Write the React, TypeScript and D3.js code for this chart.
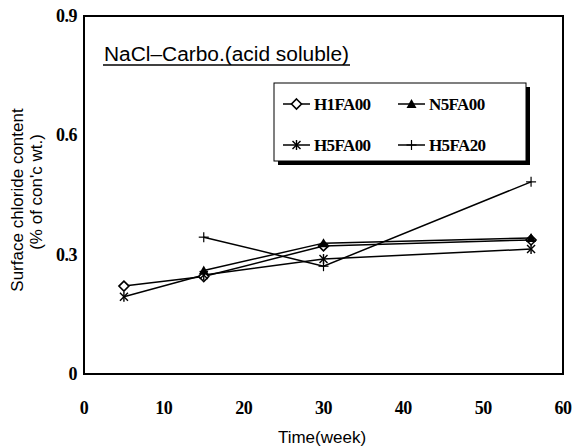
import React from 'react';
import * as d3 from 'd3';

const xTicks = [0, 10, 20, 30, 40, 50, 60];
const yTicks = [0, 0.3, 0.6, 0.9];
const yTickLabels = ['0', '0.3', '0.6', '0.9'];

const h1Weeks = [5, 15, 30, 56];
const h1fa00 = [0.221, 0.245, 0.322, 0.337];
const n5Weeks = [15, 30, 56];
const n5fa00 = [0.26, 0.329, 0.342];
const h5Weeks = [5, 15, 30, 56];
const h5fa00 = [0.194, 0.249, 0.289, 0.314];
const h20Weeks = [15, 30, 56];
const h5fa20 = [0.344, 0.271, 0.483];

const seriesNames = ['H1FA00', 'N5FA00', 'H5FA00', 'H5FA20'];

const width = 576;
const height = 448;
const plot = { left: 84, right: 563, top: 16, bottom: 374 };

const serif = '"Liberation Serif", "Times New Roman", serif';
const sans = '"Liberation Sans", Arial, sans-serif';

function Marker({ kind, x, y }: { kind: string; x: number; y: number }) {
  if (kind === 'diamond') {
    return (
      <path
        d={`M${x},${y - 5}L${x + 5},${y}L${x},${y + 5}L${x - 5},${y}Z`}
        fill="#fff"
        stroke="#000"
        strokeWidth={1.6}
      />
    );
  }
  if (kind === 'triangle') {
    return <path d={`M${x},${y - 5}L${x + 5},${y + 4}L${x - 5},${y + 4}Z`} fill="#000" />;
  }
  if (kind === 'star') {
    return (
      <g stroke="#000" strokeWidth={1.4}>
        <line x1={x - 4} y1={y - 4} x2={x + 4} y2={y + 4} />
        <line x1={x - 4} y1={y + 4} x2={x + 4} y2={y - 4} />
        <line x1={x} y1={y - 5} x2={x} y2={y + 5} />
      </g>
    );
  }
  return (
    <g stroke="#000" strokeWidth={1.2}>
      <line x1={x - 5} y1={y} x2={x + 5} y2={y} />
      <line x1={x} y1={y - 5} x2={x} y2={y + 5} />
    </g>
  );
}

export default function App() {
  const x = d3.scaleLinear().domain([0, 60]).range([plot.left, plot.right]);
  const y = d3.scaleLinear().domain([0, 0.9]).range([plot.bottom, plot.top]);

  const series = [
    { name: seriesNames[0], weeks: h1Weeks, values: h1fa00, kind: 'diamond' },
    { name: seriesNames[1], weeks: n5Weeks, values: n5fa00, kind: 'triangle' },
    { name: seriesNames[2], weeks: h5Weeks, values: h5fa00, kind: 'star' },
    { name: seriesNames[3], weeks: h20Weeks, values: h5fa20, kind: 'plus' },
  ];

  const line = d3
    .line<[number, number]>()
    .x((d) => x(d[0]))
    .y((d) => y(d[1]));

  const legend = { left: 274, top: 83, w: 252, h: 78 };
  const legendPos = [
    { lx: 283, ly: 104 },
    { lx: 398, ly: 104 },
    { lx: 283, ly: 145 },
    { lx: 398, ly: 145 },
  ];

  return (
    <svg
      width={width}
      height={height}
      style={{ position: 'absolute', left: 0, top: 0, background: '#fff' }}
    >
      <rect x={0} y={0} width={width} height={height} fill="#fff" />

      {series.map((s) => (
        <path
          key={s.name}
          d={line(s.weeks.map((w, i) => [w, s.values[i]] as [number, number])) || ''}
          fill="none"
          stroke="#000"
          strokeWidth={1.5}
        />
      ))}
      {series.map((s) =>
        s.weeks.map((w, i) => (
          <Marker key={s.name + i} kind={s.kind} x={x(w)} y={y(s.values[i])} />
        ))
      )}

      <rect
        x={plot.left}
        y={plot.top}
        width={plot.right - plot.left}
        height={plot.bottom - plot.top}
        fill="none"
        stroke="#000"
        strokeWidth={2}
      />

      {xTicks.map((t) => (
        <text
          key={t}
          x={x(t)}
          y={414}
          textAnchor="middle"
          fontFamily={serif}
          fontWeight="bold"
          fontSize={18}
          letterSpacing={-0.5}
        >
          {t}
        </text>
      ))}
      {yTicks.map((t, i) => (
        <text
          key={t}
          x={77}
          y={y(t) + 6}
          textAnchor="end"
          fontFamily={serif}
          fontWeight="bold"
          fontSize={18}
          letterSpacing={-0.5}
        >
          {yTickLabels[i]}
        </text>
      ))}

      <text x={322} y={443} textAnchor="middle" fontFamily={sans} fontSize={17}>
        Time(week)
      </text>
      <g transform="translate(23,200) rotate(-90)">
        <text x={0} y={0} textAnchor="middle" fontFamily={sans} fontSize={17}>
          Surface chloride content
        </text>
        <text x={8} y={19} textAnchor="middle" fontFamily={sans} fontSize={17}>
          (% of con'c wt.)
        </text>
      </g>

      <text
        x={104}
        y={61}
        fontFamily={sans}
        fontSize={20}
        textLength={245}
        lengthAdjust="spacingAndGlyphs"
      >
        NaCl–Carbo.(acid soluble)
      </text>
      <line x1={103} y1={65} x2={350} y2={65} stroke="#000" strokeWidth={1.5} />

      <rect x={legend.left + 4} y={legend.top + 4} width={legend.w} height={legend.h} fill="#000" />
      <rect
        x={legend.left}
        y={legend.top}
        width={legend.w}
        height={legend.h}
        fill="#fff"
        stroke="#000"
        strokeWidth={1}
      />
      {series.map((s, i) => {
        const p = legendPos[i];
        return (
          <g key={s.name}>
            <line x1={p.lx} y1={p.ly} x2={p.lx + 27} y2={p.ly} stroke="#000" strokeWidth={1.5} />
            <Marker kind={s.kind} x={p.lx + 13.5} y={p.ly} />
            <text
              x={p.lx + 31}
              y={p.ly + 6}
              fontFamily={serif}
              fontWeight="bold"
              fontSize={17}
              letterSpacing={-0.6}
            >
              {s.name}
            </text>
          </g>
        );
      })}
    </svg>
  );
}
